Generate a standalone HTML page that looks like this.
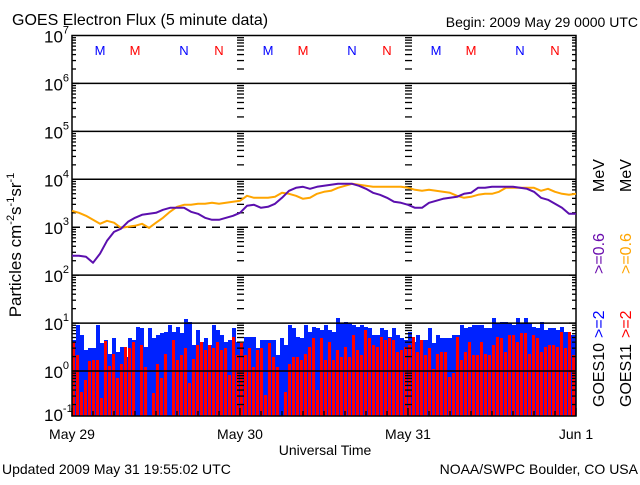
<!DOCTYPE html>
<html><head><meta charset="utf-8"><style>
html,body{margin:0;padding:0;background:#fff;}
svg text{font-family:"Liberation Sans",sans-serif;}
</style></head><body>
<svg id="chart" width="640" height="480" viewBox="0 0 640 480" xmlns="http://www.w3.org/2000/svg">
<rect x="0" y="0" width="640" height="480" fill="#fff"/>
<text x="12" y="25" font-size="16">GOES Electron Flux (5 minute data)</text>
<text x="638" y="27" font-size="14" text-anchor="end">Begin: 2009 May 29 0000 UTC</text>
<text transform="translate(21,245) rotate(-90)" font-size="17" text-anchor="middle">Particles cm<tspan font-size="11" dy="-7">-2</tspan><tspan dy="7">s</tspan><tspan font-size="11" dy="-7">-1</tspan><tspan dy="7">sr</tspan><tspan font-size="11" dy="-7">-1</tspan></text>
<text x="325" y="455" font-size="14" text-anchor="middle">Universal Time</text>
<text x="2" y="474" font-size="14">Updated 2009 May 31 19:55:02 UTC</text>
<text x="638" y="474" font-size="14" text-anchor="end">NOAA/SWPC Boulder, CO USA</text>
<g font-size="16">
<text transform="translate(604,407) rotate(-90)">GOES10</text>
<text transform="translate(604,338) rotate(-90)" fill="#0000ff">&gt;=2</text>
<text transform="translate(604,274) rotate(-90)" fill="#6a0dad">&gt;=0.6</text>
<text transform="translate(604,192) rotate(-90)">MeV</text>
</g>
<g font-size="16">
<text transform="translate(631,407) rotate(-90)">GOES11</text>
<text transform="translate(631,338) rotate(-90)" fill="#ff0000">&gt;=2</text>
<text transform="translate(631,274) rotate(-90)" fill="#ffa500">&gt;=0.6</text>
<text transform="translate(631,192) rotate(-90)">MeV</text>
</g>
<g id="plot"></g>
</svg>
<script>
const dayLabels = ["May 29","May 30","May 31","Jun 1"];
const decades = [-1,0,1,2,3,4,5,6,7];
// hourly >=0.6 MeV flux (73 points, 0..72 h)
const goes10Low = [253,253,241,181,280,520,800,930,1300,1570,1820,1910,2000,2310,2540,2540,2540,2100,1910,1570,1430,1430,1570,1730,2000,2800,2940,2540,2670,3080,4110,5760,6650,6970,6340,6970,7320,
7680,8050,8050,8050,7320,6340,5230,4750,4110,3390,3230,2940,2540,2540,3230,3560,3920,4110,4310,4980,5230,6650,6650,6970,6970,6970,6970,6650,6340,5490,4110,3730,3080,2540,1910,1910];
const goes11Low = [2200,2000,1730,1430,1180,1360,1240,970,1020,1070,1180,970,1240,1570,2100,2670,2940,2940,3080,3080,3230,3080,3230,3390,3560,4530,4110,4110,4110,4310,5230,4980,4530,3920,4110,4980,5490,
5760,6650,7320,8050,7680,7320,6970,6970,6970,6970,6970,6650,6040,5760,6040,5760,5490,5230,4530,4110,4310,4750,4980,4980,5490,6650,6650,6650,6650,6650,5760,6340,5490,4980,4750,4980];
// >=2 MeV flux, 126 bins (~34 min each)
const goes10High = [4.4,9.1,5.6,2.7,3.0,3.0,9.1,3.8,4.4,2.3,4.8,2.5,3.2,2.0,4.8,4.4,8.4,7.8,3.2,7.8,4.8,5.6,6.1,6.6,9.1,6.6,8.4,6.1,12,10.7,3.5,7.2,4.1,4.8,3.5,9.1,7.2,5.6,4.1,4.4,7.8,4.1,
3.8,5.2,5.2,5.2,3.0,4.4,4.4,4.4,4.4,2.2,4.8,3.5,9.1,7.8,5.2,4.8,9.1,6.6,8.4,7.8,7.2,9.1,7.2,6.6,13,9.9,10.7,9.9,9.1,8.4,9.1,8.4,7.8,5.6,5.6,7.8,7.2,5.2,7.8,5.6,4.8,4.4,
6.6,4.1,5.6,4.4,4.4,7.8,3.8,5.6,4.8,4.8,4.8,5.6,5.6,9.1,7.8,8.4,9.1,9.1,9.1,7.8,7.8,13,9.9,10.7,10.7,9.9,9.1,12.5,9.9,12.5,9.9,8.4,7.8,10.7,7.2,7.8,7.8,7.2,8.4,6.6,5.6,5.6];
const goes11High = [4.1,2.2,0.37,0.65,1.6,1.7,1.7,0.27,4.2,1.3,2.3,0.70,1.4,3.2,3.0,4.1,0.1,3.5,1.2,0.1,0.34,1.4,0.70,2.3,0.1,4.4,1.7,2.2,3.0,0.55,1.8,3.5,4.1,2.7,3.5,3.0,4.1,2.7,3.0,0.83,5.2,2.2,
3.8,2.2,3.0,1.2,2.7,3.0,0.32,3.8,2.0,1.2,0.1,0.37,1.4,2.0,2.0,1.7,2.3,3.2,4.8,0.40,4.8,1.7,4.1,1.7,2.7,2.0,3.2,2.0,5.6,2.7,2.2,7.2,4.8,3.5,3.2,5.2,4.4,4.8,4.4,2.5,2.7,3.2,
3.5,5.2,2.5,4.4,2.2,3.0,1.1,2.3,2.5,2.5,0.76,0.9,5.2,1.7,2.5,4.1,2.2,2.2,4.1,2.3,2.2,3.5,5.2,4.8,2.5,5.6,5.6,4.1,6.1,6.1,2.3,5.6,4.8,2.5,3.2,3.5,3.5,3.2,6.6,3.0,6.6,2.2];
const markerLetters = ["M","M","N","N"];
const markerHours = [4,9,16,21];
const markerColors = ["#0000ff","#ff0000","#0000ff","#ff0000"];

const NS="http://www.w3.org/2000/svg";
const X0=72,X1=576,Y_TOP=35.5,DEC=47.93,Y_BOT=416;
const xHour=h=>X0+(X1-X0)*h/72;
const yVal=v=>Math.min(Y_BOT,Y_TOP+(7-Math.log10(v))*DEC);
const plot=document.getElementById('plot');
function mk(tag,attrs,parent){const e=document.createElementNS(NS,tag);for(const k in attrs)e.setAttribute(k,attrs[k]);(parent||plot).appendChild(e);return e;}

// bars
const binH=72/goes10High.length;
const barsB=mk('g',{'shape-rendering':'crispEdges'});


goes10High.forEach((v,i)=>{const x=Math.round(xHour(i*binH)),w=Math.round(xHour((i+1)*binH))-x;const y=Math.round(yVal(v));
const r=mk('rect',{x:x,y:y,width:w,height:Y_BOT-y,fill:'#0022ff'},barsB);

});
const barsR=mk('g',{'shape-rendering':'crispEdges'});


goes11High.forEach((v,i)=>{const x=Math.round(xHour(i*binH)),w=Math.round(xHour((i+1)*binH))-x;const y=Math.round(yVal(v));
const r=mk('rect',{x:x,y:y,width:Math.max(1,w-1),height:Y_BOT-y,fill:'#ff0000'},barsR);

});

// grid lines
decades.forEach(d=>{if(d===-1||d===7)return;const y=Y_TOP+(7-d)*DEC;
const l=mk('line',{x1:X0,x2:X1,y1:y,y2:y,stroke:'#000','stroke-width':1.5,'stroke-dasharray':d===3?'8,6':'none'});

});

// minor ticks on left, right, day lines
const ticks=mk('g',{stroke:'#000','stroke-width':1.3});


for(let d=-1;d<7;d++){for(let m=1;m<10;m++){const v=m*Math.pow(10,d);const y=yVal(v);if(y>=Y_BOT)continue;
const len=m===1?7:4;
mk('line',{x1:X0,x2:X0+len,y1:y,y2:y},ticks);
mk('line',{x1:X1-len,x2:X1,y1:y,y2:y},ticks);
[1,2].forEach(k=>{const xd=xHour(24*k);mk('line',{x1:xd-3,x2:xd+4,y1:y,y2:y},ticks);});}}
for(let h=0;h<=72;h+=3){const x=xHour(h);mk('line',{x1:x,x2:x,y1:Y_BOT,y2:Y_BOT-(h%24===0?8:5)},ticks);}

// frame
const fr=mk('rect',{x:X0,y:Y_TOP,width:X1-X0,height:Y_BOT-Y_TOP,fill:'none',stroke:'#000','stroke-width':1.5});



// lines
function line(arr,color,name){const p=arr.map((v,i)=>xHour(i).toFixed(1)+','+yVal(v).toFixed(1)).join(' ');
const l=mk('polyline',{points:p,fill:'none',stroke:color,'stroke-width':2,'stroke-linejoin':'round'});

}
line(goes11Low,'#ffa500','goes11-ge06-line');
line(goes10Low,'#5b0fae','goes10-ge06-line');

// y tick labels
decades.forEach(d=>{const y=Y_TOP+(7-d)*DEC;const t=mk('text',{x:44,y:Math.min(y,414)+7,'font-size':17});


t.textContent='10';const s=mk('tspan',{'font-size':11,dy:-9},t);s.textContent=String(d);});

// x labels
dayLabels.forEach((s,i)=>{const t=mk('text',{x:xHour(24*i),y:439,'font-size':14,'text-anchor':'middle'});


t.textContent=s;});

// M/N markers
for(let day=0;day<3;day++){markerLetters.forEach((c,i)=>{const t=mk('text',{x:xHour(24*day+markerHours[i]),y:55,'font-size':13,'text-anchor':'middle',fill:markerColors[i]});


t.textContent=c;});}
</script>
</body></html>
